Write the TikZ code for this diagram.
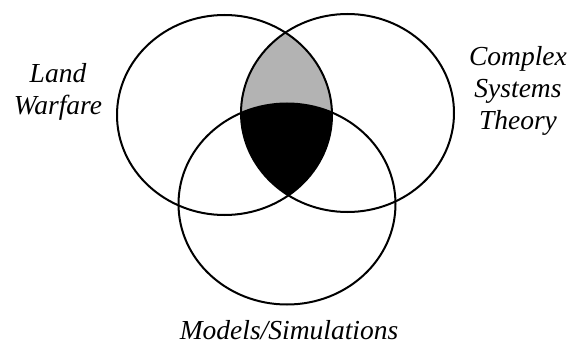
\documentclass[tikz,border=0pt]{standalone}
\usepackage{fontspec}
\setmainfont{Liberation Serif}
\usetikzlibrary{positioning}
\definecolor{overlap}{HTML}{B3B3B3}
\definecolor{core}{HTML}{000000}
\tikzset{
  setline/.style={line width=2pt,black},
  setlabel/.style={font=\itshape\fontsize{27.5}{32.5}\selectfont,align=center,inner sep=0pt,anchor=base}
}

\begin{document}
\begin{tikzpicture}[x=1pt,y=-1pt]
  \useasboundingbox (0,0) rectangle (571,345);

  % Land warfare and complex systems overlap
  \begin{scope}
    \clip (224.5,115) ellipse [x radius=107.5,y radius=100];
    \fill[overlap] (347.5,113) ellipse [x radius=106.5,y radius=99];
  \end{scope}

  % all three
  \begin{scope}
    \clip (224.5,115) ellipse [x radius=107.5,y radius=100];
    \clip (347.5,113) ellipse [x radius=106.5,y radius=99];
    \fill[core] (287,204) ellipse [x radius=108.5,y radius=100.5];
  \end{scope}

  % Sets
  \draw[setline] (224.5,115) ellipse [x radius=107.5,y radius=100];
  \draw[setline] (347.5,113) ellipse [x radius=106.5,y radius=99];
  \draw[setline] (287,204) ellipse [x radius=108.5,y radius=100.5];

  % Labels (base = last line)
  \node[setlabel] (land) at (58,115) {Land\\Warfare};
  \node[setlabel] (complex) at (518,130) {Complex\\Systems\\Theory};
  \node[setlabel] (models) at (289,339) {Models/Simulations};
\end{tikzpicture}
\end{document}
